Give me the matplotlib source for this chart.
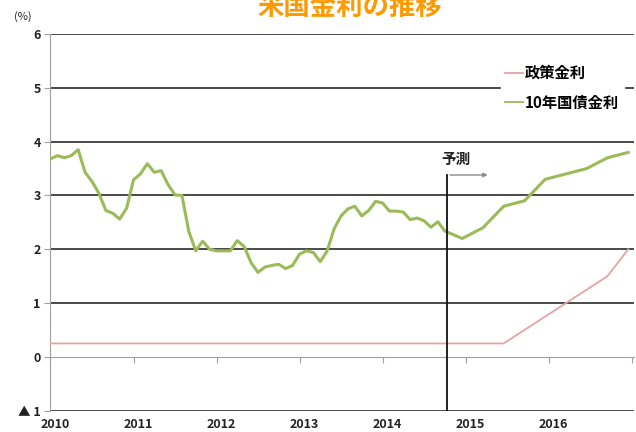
import matplotlib.pyplot as plt
import numpy as np
from matplotlib.lines import Line2D

plt.rcParams['font.family'] = ['Noto Sans CJK JP', 'DejaVu Sans']

# 10年国債金利, monthly Jan 2010 - Oct 2014
jgb_hist = [3.68, 3.74, 3.70, 3.74, 3.85, 3.43, 3.26, 3.04, 2.72, 2.67, 2.56, 2.76,
            3.29, 3.40, 3.59, 3.43, 3.46, 3.20, 3.01, 3.00, 2.33, 1.97, 2.15, 2.00,
            1.97, 1.97, 1.97, 2.16, 2.05, 1.75, 1.57, 1.67, 1.70, 1.72, 1.64, 1.70,
            1.91, 1.97, 1.94, 1.77, 1.97, 2.38, 2.62, 2.75, 2.80, 2.62, 2.72, 2.89,
            2.86, 2.71, 2.71, 2.69, 2.55, 2.58, 2.53, 2.41, 2.51, 2.34]
# forecast, quarterly
jgb_fc_t = [2014.96, 2015.21, 2015.46, 2015.71, 2015.96, 2016.21, 2016.46, 2016.71, 2016.96]
jgb_fc = [2.20, 2.40, 2.80, 2.90, 3.30, 3.40, 3.50, 3.70, 3.80]
# 政策金利
policy_t = [2010.0, 2015.46, 2015.71, 2015.96, 2016.21, 2016.46, 2016.71, 2016.96]
policy = [0.25, 0.25, 0.50, 0.75, 1.00, 1.25, 1.50, 2.00]

years = [2010, 2011, 2012, 2013, 2014, 2015, 2016]
forecast_start = 2014.78
ytick_labels = ['▲ 1', '0', '1', '2', '3', '4', '5', '6']

green = '#9bbb59'
pink = '#e6a3a3'
grid_c = '#3c3c3c'
axis_c = '#a0a0a0'

hist_t = 2010 + np.arange(len(jgb_hist)) / 12
jgb_t = list(hist_t) + jgb_fc_t
jgb = jgb_hist + jgb_fc

fig = plt.figure(figsize=(6.36, 4.32), dpi=100)
ax = fig.add_axes([0.0794, 0.0493, 0.9175, 0.872])

for v in [-1, 1, 2, 3, 4, 5, 6]:
    ax.axhline(v, color=grid_c, lw=1.3, zorder=1)

ax.plot(policy_t, policy, color=pink, lw=1.3, zorder=3)
ax.plot(jgb_t, jgb, color=green, lw=2.2, zorder=4)

ax.set_xlim(2010, 2017.03)
ax.set_ylim(-1, 6)

ax.spines['top'].set_visible(False)
ax.spines['right'].set_visible(False)
ax.spines['left'].set_color(axis_c)
ax.spines['bottom'].set_color(axis_c)
ax.spines['bottom'].set_position(('data', 0))
ax.spines['bottom'].set_zorder(2)

ax.set_yticks(range(-1, 7))
ax.set_yticklabels(ytick_labels, fontsize=9, fontweight='bold', color='#222222')
ax.set_xticks(years + [2017])
ax.tick_params(axis='x', direction='out', length=4, color=axis_c, labelbottom=False)
ax.tick_params(axis='y', direction='out', length=4, color=axis_c, pad=3)

for y in years:
    ax.annotate(str(y), xy=(y + 0.06, -1), xytext=(0, -10), textcoords='offset points',
                ha='center', va='center', fontsize=9, fontweight='bold', color='#222222')

# forecast marker
ax.plot([forecast_start, forecast_start], [-1, 3.38], color='#111111', lw=1.3, zorder=5)
ax.annotate('', xy=(forecast_start + 0.52, 3.38), xytext=(forecast_start, 3.38),
            arrowprops=dict(arrowstyle='-|>', color='#888888', lw=1, mutation_scale=6),
            zorder=5)
ax.text(forecast_start + 0.1, 3.67, '予測', ha='center', va='center', fontsize=10.5,
        fontweight='bold', color='#222222')

handles = [Line2D([], [], color=pink, lw=1.3), Line2D([], [], color=green, lw=1.3)]
leg = ax.legend(handles, ['政策金利', '10年国債金利'], loc='upper left',
                bbox_to_anchor=(0.787, 0.860), bbox_transform=fig.transFigure,
                borderaxespad=0, frameon=True, fancybox=False, edgecolor='white',
                facecolor='white', framealpha=1, handlelength=1.2, handletextpad=0.1,
                borderpad=0.3, labelspacing=0.9, prop={'size': 11, 'weight': 'bold'})
leg.set_zorder(6)

fig.text(0.549, 0.965, '米国金利の推移', ha='center', va='baseline', color='#ff9900',
         fontsize=19, fontweight='bold')
fig.text(0.036, 0.961, '(%)', ha='center', va='center', fontsize=8, color='#222222')

fig.savefig('out.png', dpi=100)
